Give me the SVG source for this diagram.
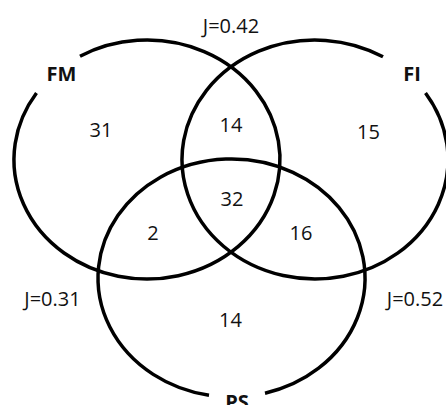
<svg xmlns="http://www.w3.org/2000/svg" width="446" height="405" viewBox="0 0 446 405">
  <style>
    .set { fill: none; stroke: #000; stroke-width: 3.5; stroke-linecap: butt; }
    .lbl { font-family: "Open Sans", "Liberation Sans", sans-serif; font-size: 20px; font-weight: bold; fill: #111; text-anchor: middle; }
    .num { font-family: "Open Sans", "Liberation Sans", sans-serif; font-size: 20px; fill: #111; text-anchor: middle; }
  </style>
  <rect width="446" height="405" fill="#fff"/>
  <g id="FM">
    <path class="set" d="M 80 56.3 A 133 119.5 0 1 1 36.5 93"/>
    <text class="lbl" x="61.5" y="81">FM</text>
  </g>
  <g id="FI">
    <path class="set" d="M 425.5 93 A 133 119.5 0 1 1 383 56.8"/>
    <text class="lbl" x="412" y="81">FI</text>
  </g>
  <g id="PS">
    <path class="set" d="M 209 395.3 A 133.5 119 0 1 1 265 393.2"/>
    <text class="lbl" x="237" y="409">PS</text>
  </g>
  <g id="counts">
    <text class="num" x="101" y="137">31</text>
    <text class="num" x="231" y="132">14</text>
    <text class="num" x="368.5" y="139">15</text>
    <text class="num" x="232" y="206">32</text>
    <text class="num" x="153" y="240">2</text>
    <text class="num" x="301" y="240">16</text>
    <text class="num" x="230.5" y="327">14</text>
  </g>
  <g id="jaccard">
    <text class="num" x="231" y="33">J=0.42</text>
    <text class="num" x="52.5" y="306">J=0.31</text>
    <text class="num" x="415" y="306">J=0.52</text>
  </g>
</svg>
